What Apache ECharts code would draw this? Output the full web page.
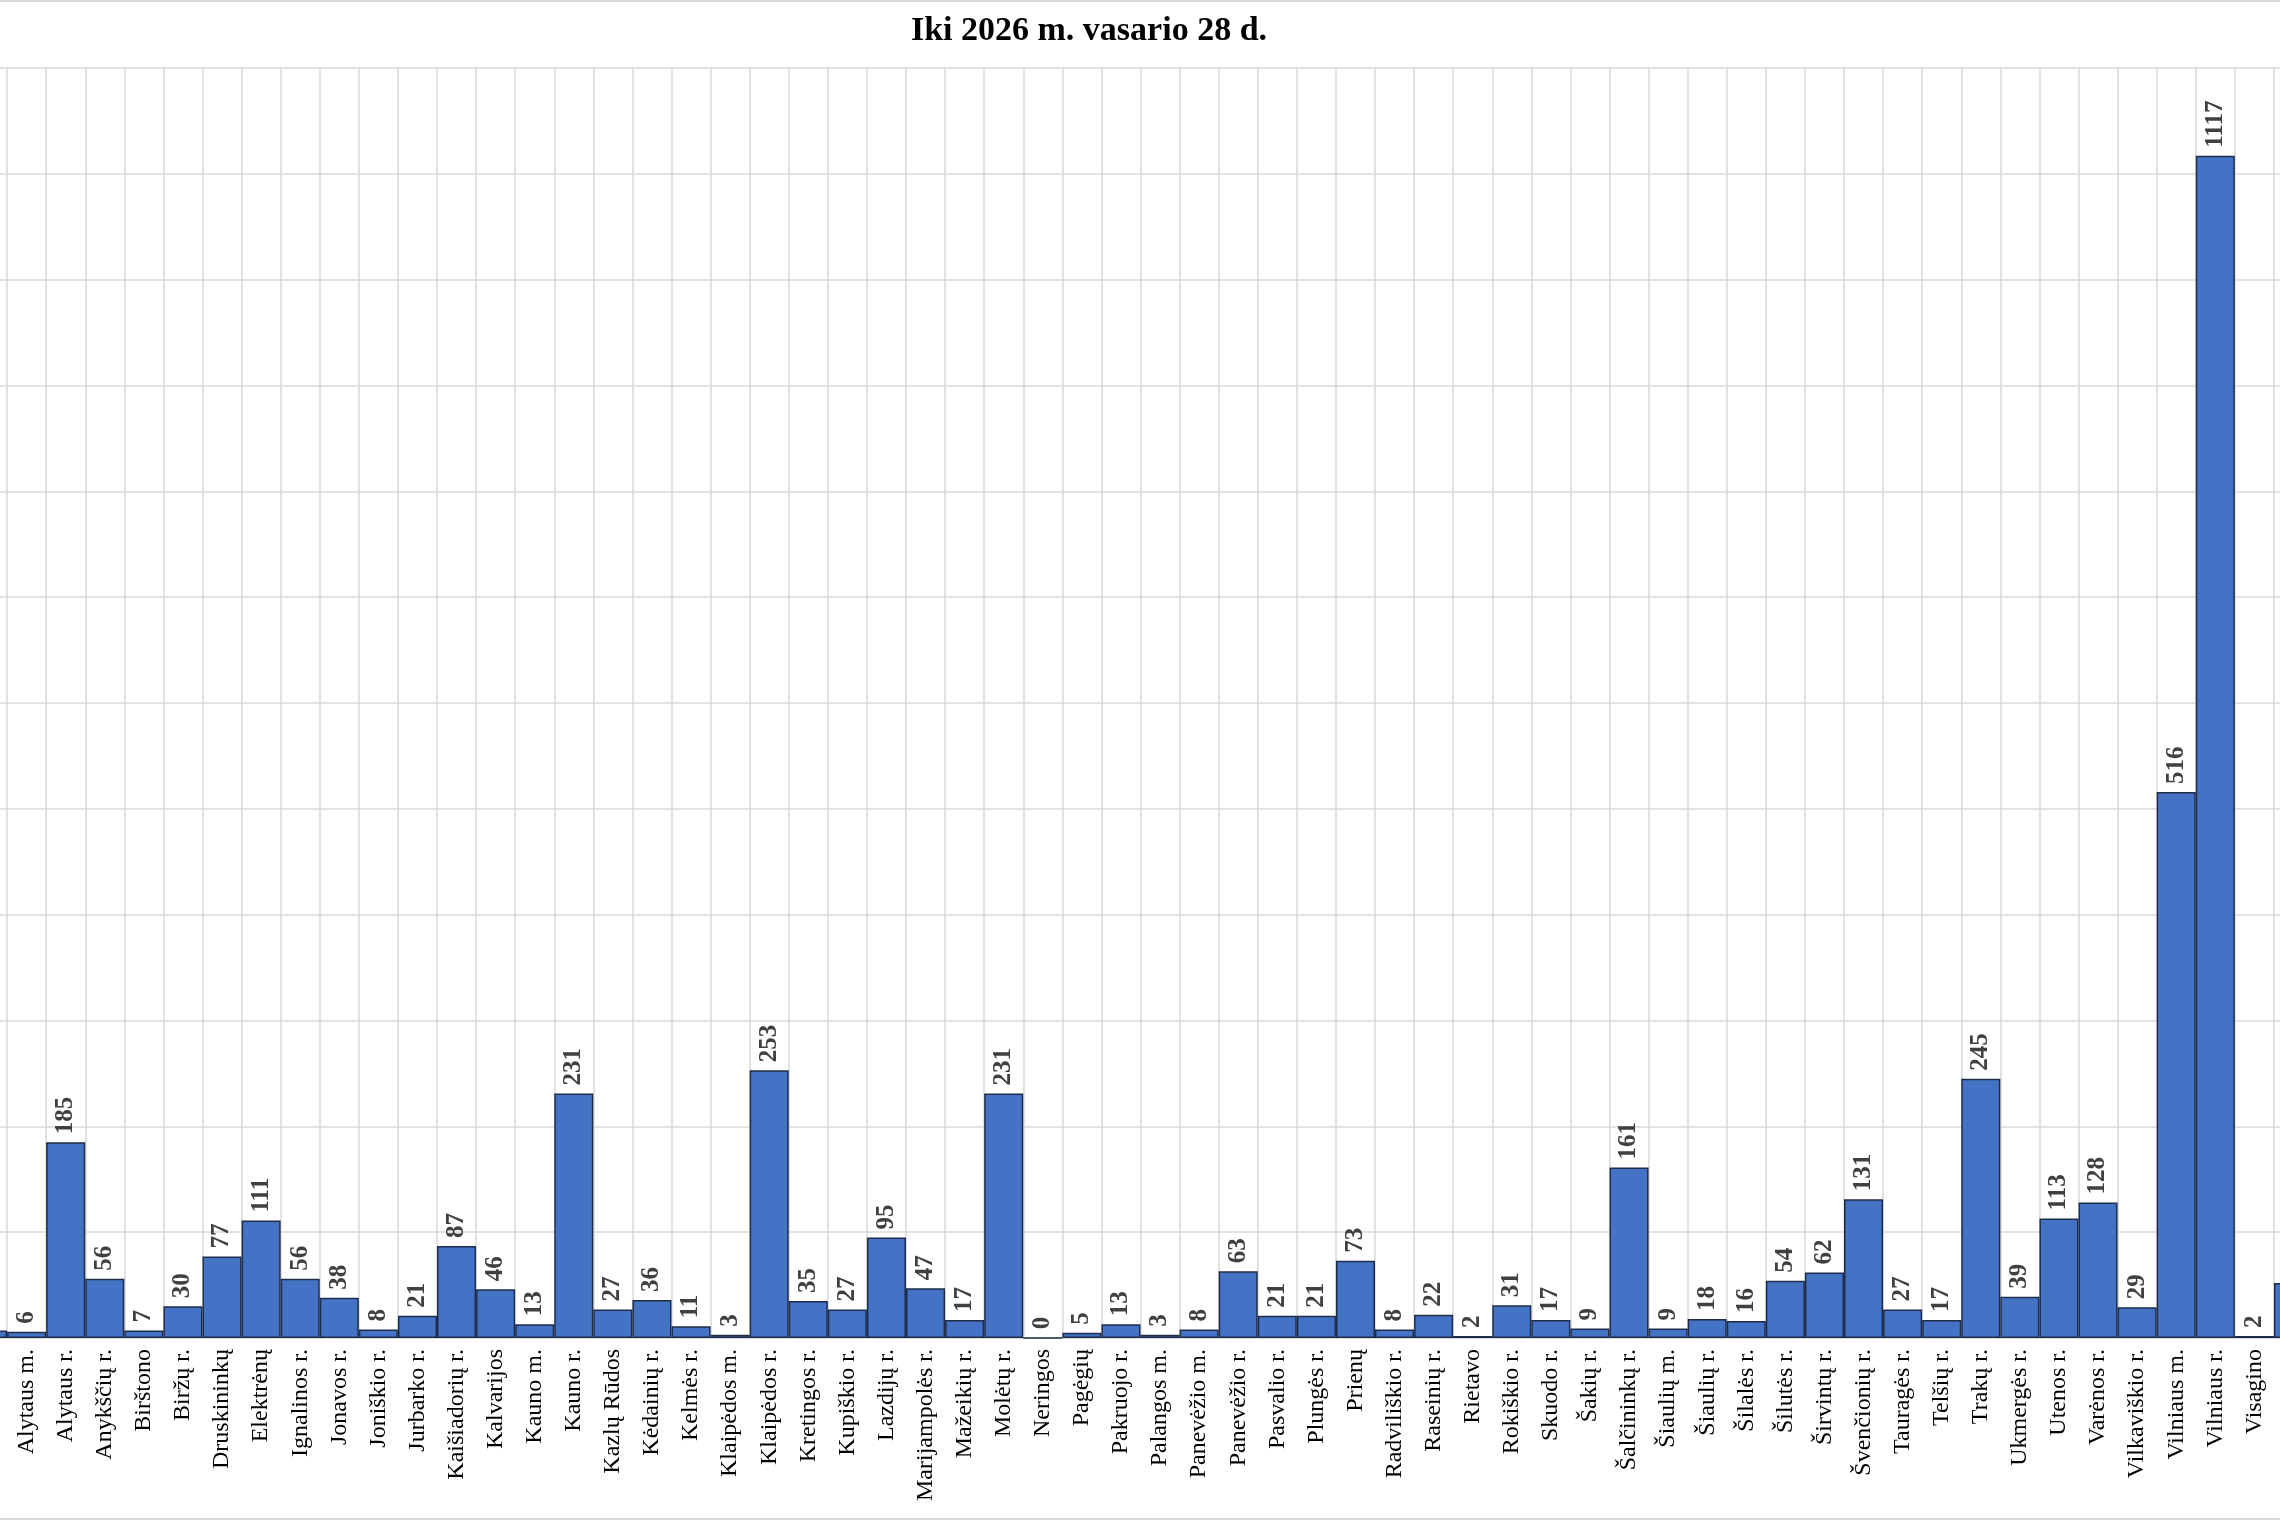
<!DOCTYPE html>
<html>
<head>
<meta charset="utf-8">
<script src="https://cdn.jsdelivr.net/npm/echarts@6/dist/echarts.min.js"></script>
<style>
  html, body { margin: 0; padding: 0; background: #fff; overflow: hidden; }
  #main { position: absolute; left: -32px; top: 0; width: 2345px; height: 1520px; }
</style>
</head>
<body>
<div id="main"></div>
<script>
var titleText = 'Iki 2026 m. vasario 28 d.';

var categories = ['Akmenės r.', 'Alytaus m.', 'Alytaus r.', 'Anykščių r.', 'Birštono', 'Biržų r.',
    'Druskininkų', 'Elektrėnų', 'Ignalinos r.', 'Jonavos r.', 'Joniškio r.', 'Jurbarko r.',
    'Kaišiadorių r.', 'Kalvarijos', 'Kauno m.', 'Kauno r.', 'Kazlų Rūdos', 'Kėdainių r.',
    'Kelmės r.', 'Klaipėdos m.', 'Klaipėdos r.', 'Kretingos r.', 'Kupiškio r.', 'Lazdijų r.',
    'Marijampolės r.', 'Mažeikių r.', 'Molėtų r.', 'Neringos', 'Pagėgių', 'Pakruojo r.',
    'Palangos m.', 'Panevėžio m.', 'Panevėžio r.', 'Pasvalio r.', 'Plungės r.', 'Prienų',
    'Radviliškio r.', 'Raseinių r.', 'Rietavo', 'Rokiškio r.', 'Skuodo r.', 'Šakių r.',
    'Šalčininkų r.', 'Šiaulių m.', 'Šiaulių r.', 'Šilalės r.', 'Šilutės r.', 'Širvintų r.',
    'Švenčionių r.', 'Tauragės r.', 'Telšių r.', 'Trakų r.', 'Ukmergės r.', 'Utenos r.',
    'Varėnos r.', 'Vilkaviškio r.', 'Vilniaus m.', 'Vilniaus r.', 'Visagino', 'Zarasų r.'];

var values = [7, 6, 185, 56, 7, 30,
    77, 111, 56, 38, 8, 21,
    87, 46, 13, 231, 27, 36,
    11, 3, 253, 35, 27, 95,
    47, 17, 231, 0, 5, 13,
    3, 8, 63, 21, 21, 73,
    8, 22, 2, 31, 17, 9,
    161, 9, 18, 16, 54, 62,
    131, 27, 17, 245, 39, 113,
    128, 29, 516, 1117, 2, 52];

var yMax = 1200;
var yStep = 100;

var myChart = echarts.init(document.getElementById('main'));
var option = {
    backgroundColor: '#fff',
    animation: false,
    title: {
        text: titleText,
        left: 1116,
        top: 9,
        textAlign: 'center',
        textStyle: {
            fontFamily: 'Liberation Serif',
            fontWeight: 'bold',
            fontSize: 34,
            color: '#000'
        }
    },
    graphic: [
        { type: 'line', shape: { x1: 0, y1: 1, x2: 2345, y2: 1 }, style: { stroke: '#d9d9d9', lineWidth: 2 } },
        { type: 'line', shape: { x1: 0, y1: 1519, x2: 2345, y2: 1519 }, style: { stroke: '#d9d9d9', lineWidth: 2 } }
    ],
    grid: {
        left: 0,
        right: 0,
        top: 68,
        bottom: 182
    },
    xAxis: {
        type: 'category',
        data: categories,
        axisTick: { show: false },
        axisLine: { lineStyle: { color: '#d9d9d9', width: 2 } },
        splitLine: { show: true, interval: 0, lineStyle: { color: '#d9d9d9', width: 1.5 } },
        axisLabel: {
            interval: 0,
            rotate: 90,
            margin: 11,
            fontFamily: 'Liberation Serif',
            fontSize: 24,
            color: '#000'
        }
    },
    yAxis: {
        type: 'value',
        min: 0,
        max: yMax,
        interval: yStep,
        axisLabel: { show: false },
        axisLine: { show: false },
        axisTick: { show: false },
        splitLine: { lineStyle: { color: '#d9d9d9', width: 1.5 } }
    },
    series: [{
        type: 'bar',
        data: values,
        barCategoryGap: '0%',
        itemStyle: {
            color: '#4472c4',
            borderColor: '#1f2c4a',
            borderWidth: 1.5
        },
        label: {
            show: true,
            position: 'top',
            rotate: 90,
            align: 'left',
            verticalAlign: 'middle',
            distance: 8,
            fontFamily: 'Liberation Serif',
            fontWeight: 'bold',
            fontSize: 25,
            color: '#404040'
        }
    }]
};
myChart.setOption(option);
</script>
</body>
</html>
